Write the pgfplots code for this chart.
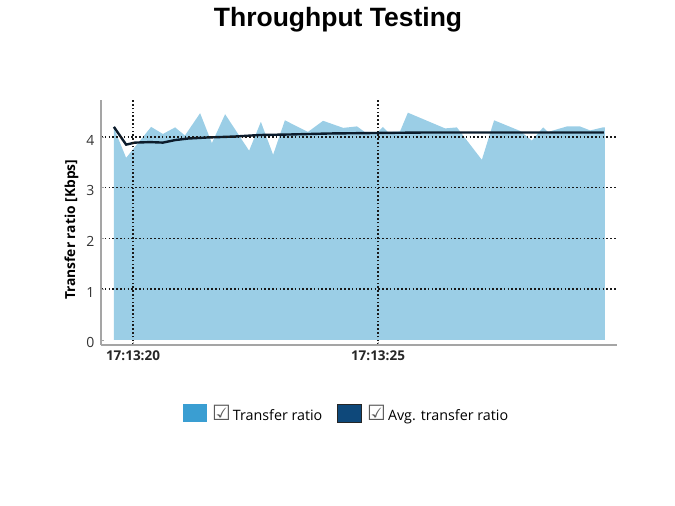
\documentclass[border=0pt]{standalone}
\usepackage{pgfplots}
\pgfplotsset{compat=1.18}
\usepackage{fontspec}
\setmainfont{Open Sans}
\newfontfamily\titlefont{Liberation Sans}
\newfontfamily\symfont{DejaVu Sans}
\definecolor{areafill}{RGB}{155,206,230}
\definecolor{legblue}{RGB}{58,158,210}
\definecolor{legdark}{RGB}{14,72,122}
\definecolor{avgline}{RGB}{12,28,44}
\definecolor{axisgray}{RGB}{165,165,165}
\begin{document}
\begin{tikzpicture}[x=1pt,y=1pt]
\path[use as bounding box] (0,0) rectangle (675,506);
\node[font=\titlefont\bfseries\fontsize{26.5}{30}\selectfont] at (338,486) {Throughput Testing};
\begin{axis}[
  at={(101pt,161pt)}, anchor=south west,
  scale only axis, width=516pt, height=245pt,
  xmin=-0.653, xmax=9.878, ymin=-0.1, ymax=4.73,
  axis x line*=bottom, axis y line*=left,
  axis line style={axisgray, line width=1.2pt, -},
  axis on top,
  xtick={0,5}, xticklabels={17:13:20,17:13:25},
  ytick={1,2,3,4},
  extra y ticks={0}, extra y tick style={grid=none},
  major tick length=3pt,
  tick style={axisgray, line width=0.8pt},
  /pgf/number format/assume math mode=true,
  yticklabel style={font=\fontsize{14}{15}\selectfont, text=black!80, xshift=-3pt, yshift=-3pt},
  xticklabel style={font=\bfseries\fontsize{13.5}{15}\selectfont, text=black!85, yshift=-2.5pt},
  grid=major,
  major grid style={black!90, line width=1.5pt, dash pattern=on 1.5pt off 2.3pt},
  ylabel={Transfer ratio [Kbps]},
  ylabel style={font=\bfseries\fontsize{13.8}{16}\selectfont, at={(rel axis cs:-0.057,0.47)}, anchor=center},
  legend style={at={(rel axis cs:0.476,-0.278)}, anchor=center, draw=none, fill=none,
    font=\fontsize{14.3}{16}\selectfont, legend columns=2,
    /tikz/every even column/.append style={column sep=13pt}},
  legend cell align=left,
]
\addplot[fill=areafill, draw=none,
  legend image code/.code={\fill[legblue] (0pt,-9pt) rectangle (24pt,9pt);}]
coordinates {
(-0.39,0) (-0.39,4.18) (-0.14,3.59) (0.37,4.20) (0.61,4.06) (0.86,4.19) (1.06,4.03)
(1.37,4.47) (1.61,3.88) (1.88,4.45) (2.37,3.73) (2.61,4.30) (2.86,3.65) (3.10,4.33)
(3.57,4.10) (3.88,4.32) (4.29,4.18) (4.57,4.21) (4.73,4.10) (5.00,4.10) (5.10,4.20)
(5.20,4.10) (5.45,4.11) (5.61,4.48) (6.37,4.17) (6.61,4.19) (7.12,3.55) (7.37,4.33)
(7.90,4.12) (8.14,3.93) (8.37,4.19) (8.47,4.10) (8.86,4.21) (9.12,4.21) (9.33,4.13)
(9.59,4.19) (9.63,4.19) (9.63,0)
};
\addlegendentry{\hspace{3pt}{\symfont\fontsize{21}{18}\selectfont\color{black!65}☑}\hspace{2pt}Transfer ratio}
\addplot[avgline, line width=2.4pt,
  legend image code/.code={\filldraw[fill=legdark, draw=black!85, line width=0.8pt] (0pt,-9pt) rectangle (24pt,9pt);}]
coordinates {
(-0.39,4.20) (-0.14,3.85) (0.04,3.89) (0.35,3.90) (0.61,3.89) (0.86,3.94) (1.12,3.97)
(1.50,3.99) (2.08,4.01) (2.59,4.04) (3.20,4.05) (4.02,4.07) (5.00,4.08) (6.06,4.09)
(7.08,4.09) (8.31,4.09) (9.61,4.09)
};
\addlegendentry{\hspace{3pt}{\symfont\fontsize{21}{18}\selectfont\color{black!65}☑}\hspace{2pt}Avg. transfer ratio}
\end{axis}
\end{tikzpicture}
\end{document}
